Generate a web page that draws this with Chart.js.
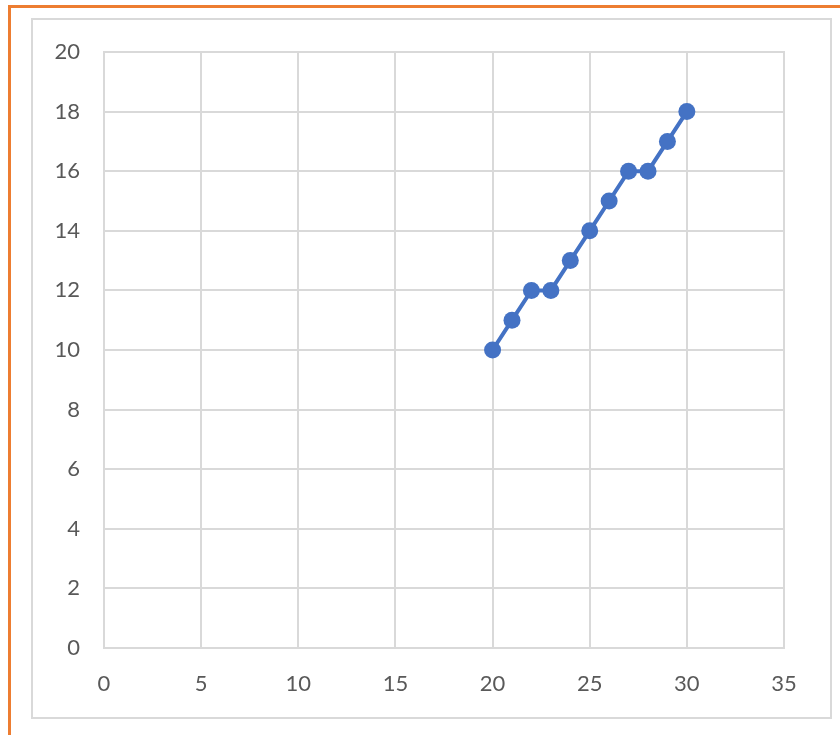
<!DOCTYPE html>
<html>
<head>
<meta charset="utf-8">
<script src="https://cdn.jsdelivr.net/npm/chart.js@4.4.1/dist/chart.umd.min.js"></script>
<style>
  html, body { margin: 0; padding: 0; background: #fff; }
  body { width: 840px; height: 735px; position: relative; overflow: hidden; }
  #frame { position: absolute; left: 8px; top: 5px; width: 900px; height: 800px;
           border-left: 3px solid #ED7D31; border-top: 3px solid #ED7D31; }
  #box { position: absolute; left: 31px; top: 18px; width: 797px; height: 697px;
         border: 2px solid #d9d9d9; }
  #wrap { position: absolute; left: 0; top: 0; width: 840px; height: 735px; }
</style>
</head>
<body>
<div id="frame"></div>
<div id="box"></div>
<div id="wrap"><canvas id="c" width="840" height="735"></canvas></div>
<script>
// Series: x from 20 to 30, y values
const xValues = [20, 21, 22, 23, 24, 25, 26, 27, 28, 29, 30];
const yValues = [10, 11, 12, 12, 13, 14, 15, 16, 16, 17, 18];
const xTicks = [0, 5, 10, 15, 20, 25, 30, 35];
const yTicks = [0, 2, 4, 6, 8, 10, 12, 14, 16, 18, 20];

const points = xValues.map((x, i) => ({ x: x, y: yValues[i] }));
const tickFont = { family: 'Lato, "Open Sans", sans-serif', size: 22 };
const gridStyle = { color: '#d9d9d9', lineWidth: 2, drawTicks: false };

new Chart(document.getElementById('c'), {
  type: 'scatter',
  data: {
    datasets: [{
      data: points,
      showLine: true,
      borderColor: '#4472C4',
      backgroundColor: '#4472C4',
      borderWidth: 4,
      pointRadius: 8.5,
      pointHoverRadius: 8.5,
      pointBorderWidth: 0
    }]
  },
  options: {
    responsive: false,
    animation: false,
    events: [],
    layout: { padding: { left: 0, top: 52, right: 56, bottom: 0 } },
    plugins: { legend: { display: false }, tooltip: { enabled: false } },
    scales: {
      x: {
        type: 'linear', min: 0, max: 35,
        afterBuildTicks: s => { s.ticks = xTicks.map(v => ({ value: v })); },
        afterFit: s => { s.height = 87; },
        grid: gridStyle,
        border: { display: true, color: '#d9d9d9', width: 2 },
        ticks: { color: '#595959', font: tickFont, padding: 23, maxRotation: 0 }
      },
      y: {
        type: 'linear', min: 0, max: 20,
        afterBuildTicks: s => { s.ticks = yTicks.map(v => ({ value: v })); },
        afterFit: s => { s.width = 104; },
        grid: gridStyle,
        border: { display: true, color: '#d9d9d9', width: 2 },
        ticks: { color: '#595959', font: tickFont, padding: 24 }
      }
    }
  },
  plugins: [{
    id: 'outline',
    afterDraw(chart) {
      const { ctx, chartArea: a } = chart;
      ctx.save();
      ctx.strokeStyle = '#d9d9d9';
      ctx.lineWidth = 2;
      ctx.strokeRect(a.left, a.top, a.right - a.left, a.bottom - a.top);
      ctx.restore();
    }
  }]
});
</script>
</body>
</html>
